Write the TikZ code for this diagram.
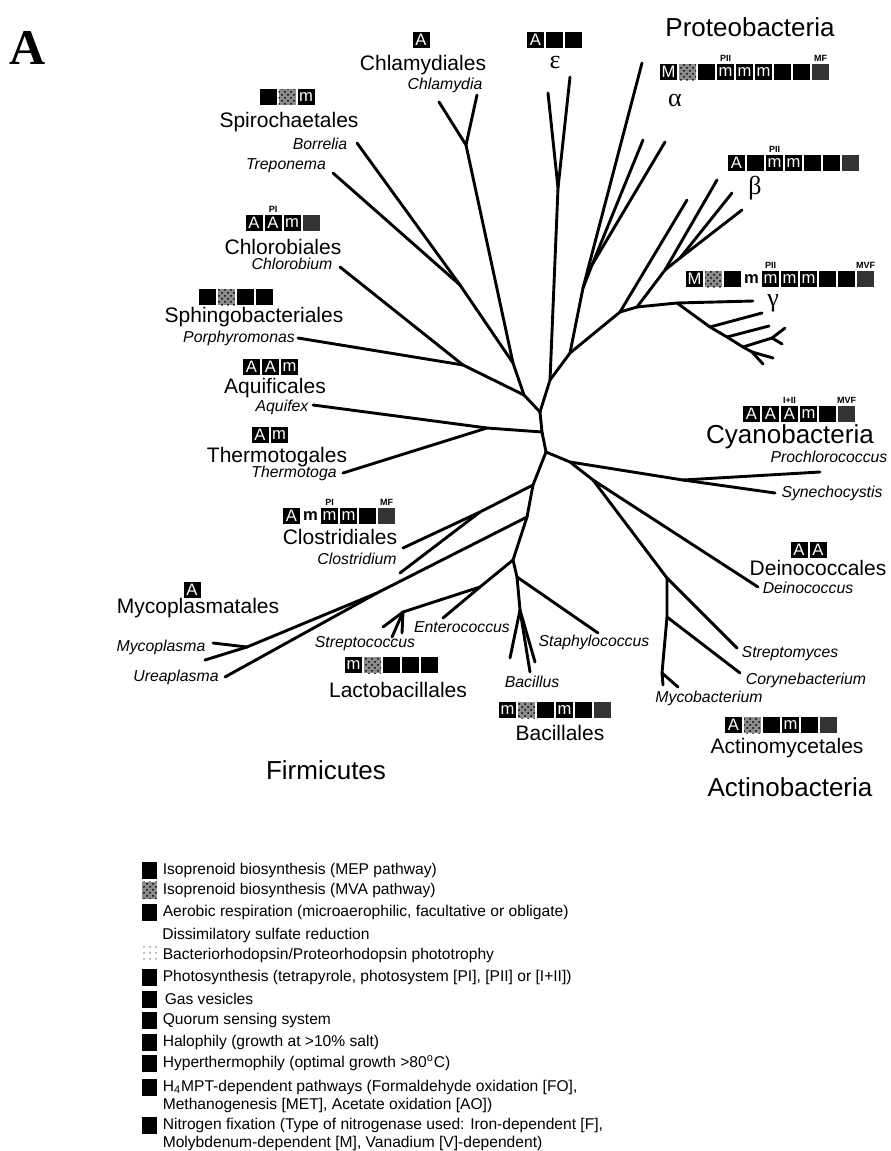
\documentclass[tikz,border=0pt]{standalone}
\usepackage{fontspec}
\setmainfont{Liberation Sans}
\newfontfamily\grk{Liberation Serif}
\usetikzlibrary{positioning,patterns}

\begin{document}
\begin{tikzpicture}[x=0.5pt, y=-0.5pt, node distance=9.5pt,
  branch/.style={line width=1.45pt, line cap=round, line join=round},
  feat/.style={fill=black, text=white, minimum width=8.5pt, minimum height=8pt, inner sep=0pt, font=\fontsize{8.3}{8.5}\selectfont},
  mva/.style={feat, preaction={fill=black!45}, pattern=crosshatch dots},
  dim/.style={feat, fill=black!80},
  bare/.style={feat, fill=none, text=black, font=\fontsize{8.3}{8.5}\selectfont\bfseries},
  tag/.style={font=\fontsize{4.5}{5}\selectfont\bfseries, inner sep=0pt},
  order/.style={font=\fontsize{10.5}{12}\selectfont, inner sep=0pt},
  genus/.style={font=\fontsize{7.9}{9}\selectfont\itshape, inner sep=0pt},
  phylum/.style={font=\fontsize{13}{15}\selectfont, inner sep=0pt},
  greek/.style={font=\fontsize{13}{15}\selectfont\grk, inner sep=0pt},
  legbox/.style={fill=black, minimum width=7.5pt, minimum height=8.5pt, inner sep=0pt},
  legrho/.style={legbox, fill=none, pattern=dots, pattern color=black!40},
  legmva/.style={legbox, preaction={fill=black!45}, pattern=crosshatch dots},
  legtext/.style={font=\fontsize{7.8}{9}\selectfont, inner sep=0pt}]
\useasboundingbox (0,0) rectangle (890,1151);

\node[font=\fontsize{25}{28}\selectfont\grk\bfseries, inner sep=0pt] (panel) at (28,48) {A};

% tree points
\coordinate (ro) at (546,452);
\coordinate (bb1) at (542,432);
\coordinate (bb2) at (540,412);
\coordinate (lt) at (524,395);
\coordinate (sc) at (513,363);
\coordinate (sp) at (460,285);
\coordinate (ch) at (466,145);
\coordinate (cp) at (463,365);
\coordinate (pr) at (550,380);
\coordinate (ep) at (558,188);
\coordinate (pab) at (570,353);
\coordinate (al) at (583,288);
\coordinate (al2) at (592,265);
\coordinate (bg) at (620,312);
\coordinate (bg2) at (637,307);
\coordinate (be2) at (665,270);
\coordinate (be3) at (680,258);
\coordinate (ga) at (677,303);
\coordinate (gs1) at (710,327);
\coordinate (gs2) at (727,337);
\coordinate (gs3) at (743,347);
\coordinate (gs4) at (752,352);
\coordinate (gf) at (772,338);
\coordinate (aq) at (487,428);
\coordinate (cy) at (570,462);
\coordinate (cy2) at (683,480);
\coordinate (dn) at (593,480);
\coordinate (ac) at (667,578);
\coordinate (ac2) at (667,617);
\coordinate (my) at (662,673);
\coordinate (cl) at (533,485);
\coordinate (cl2) at (480,512);
\coordinate (mp) at (527,517);
\coordinate (mp2) at (377,593);
\coordinate (mp3) at (247,647);
\coordinate (fl) at (513,560);
\coordinate (lb) at (480,587);
\coordinate (st) at (403,612);
\coordinate (ba) at (517,577);
\coordinate (ba2) at (520,610);

% leaves
\coordinate (bor) at (357,143);
\coordinate (tre) at (333,173);
\coordinate (chl1) at (439,102);
\coordinate (chl2) at (477,95);
\coordinate (chb) at (340,267);
\coordinate (por) at (298,338);
\coordinate (eps1) at (548,93);
\coordinate (eps2) at (570,77);
\coordinate (alf1) at (642,63);
\coordinate (alf2) at (643,140);
\coordinate (alf3) at (665,142);
\coordinate (bet1) at (687,200);
\coordinate (bet2) at (717,180);
\coordinate (bet3) at (732,193);
\coordinate (bet4) at (742,210);
\coordinate (gtop) at (753,301);
\coordinate (gl1) at (762,313);
\coordinate (gl2) at (769,326);
\coordinate (gl3) at (785,328);
\coordinate (gl4) at (782,344);
\coordinate (gl5) at (773,358);
\coordinate (gend) at (763,364);
\coordinate (aqx) at (313,405);
\coordinate (thg) at (343,473);
\coordinate (pro) at (820,472);
\coordinate (syn) at (775,493);
\coordinate (dei) at (758,587);
\coordinate (stm) at (737,648);
\coordinate (cor) at (740,673);
\coordinate (myc1) at (663,685);
\coordinate (myc2) at (678,687);
\coordinate (cls) at (403,548);
\coordinate (clo) at (400,573);
\coordinate (myp1) at (213,643);
\coordinate (myp2) at (205,660);
\coordinate (ure) at (225,677);
\coordinate (str1) at (383,627);
\coordinate (str2) at (392,637);
\coordinate (str3) at (402,633);
\coordinate (ent) at (443,618);
\coordinate (sta) at (598,633);
\coordinate (bac1) at (510,658);
\coordinate (bac2) at (530,672);
\coordinate (bac3) at (535,662);

% branches
\draw[branch] (ro) -- (bb1) -- (bb2) -- (lt) -- (sc) -- (sp) -- (bor);
\draw[branch] (sp) -- (tre);
\draw[branch] (sc) -- (ch) -- (chl1);
\draw[branch] (ch) -- (chl2);
\draw[branch] (lt) -- (cp) -- (chb);
\draw[branch] (cp) -- (por);
\draw[branch] (bb2) -- (pr) -- (ep) -- (eps1);
\draw[branch] (ep) -- (eps2);
\draw[branch] (pr) -- (pab) -- (al) -- (alf1);
\draw[branch] (al) -- (al2) -- (alf2);
\draw[branch] (al2) -- (alf3);
\draw[branch] (pab) -- (bg) -- (bet1);
\draw[branch] (bg) -- (bg2) -- (be2) -- (bet2);
\draw[branch] (be2) -- (be3) -- (bet3);
\draw[branch] (be3) -- (bet4);
\draw[branch] (bg2) -- (ga) -- (gtop);
\draw[branch] (ga) -- (gs1) -- (gs2) -- (gs3) -- (gs4) -- (gend);
\draw[branch] (gs1) -- (gl1);
\draw[branch] (gs2) -- (gl2);
\draw[branch] (gs3) -- (gf) -- (gl3);
\draw[branch] (gf) -- (gl4);
\draw[branch] (gs4) -- (gl5);
\draw[branch] (bb1) -- (aq) -- (aqx);
\draw[branch] (aq) -- (thg);
\draw[branch] (ro) -- (cy) -- (cy2) -- (pro);
\draw[branch] (cy2) -- (syn);
\draw[branch] (cy) -- (dn) -- (dei);
\draw[branch] (dn) -- (ac) -- (stm);
\draw[branch] (ac) -- (ac2) -- (cor);
\draw[branch] (ac2) -- (my) -- (myc1);
\draw[branch] (my) -- (myc2);
\draw[branch] (ro) -- (cl) -- (mp) -- (fl);
\draw[branch] (cl) -- (cl2) -- (cls);
\draw[branch] (cl2) -- (clo);
\draw[branch] (mp) -- (mp2) -- (mp3) -- (myp1);
\draw[branch] (mp3) -- (myp2);
\draw[branch] (mp2) -- (ure);
\draw[branch] (fl) -- (lb) -- (st) -- (str1);
\draw[branch] (st) -- (str2);
\draw[branch] (st) -- (str3);
\draw[branch] (lb) -- (ent);
\draw[branch] (fl) -- (ba) -- (sta);
\draw[branch] (ba) -- (ba2) -- (bac1);
\draw[branch] (ba2) -- (bac2);
\draw[branch] (ba2) -- (bac3);

% phyla
\node[phylum] (proteo) at (750,27) {Proteobacteria};
\node[phylum] (cyano) at (790,437) {Cyanobacteria};
\node[phylum] (firmi) at (326,770) {Firmicutes};
\node[phylum] (actino) at (790,787) {Actinobacteria};

% Greek subdivisions
\node[greek] (gkeps) at (555,63) {ε};
\node[greek] (gkalf) at (675,100) {α};
\node[greek] (gkbet) at (755,188) {β};
\node[greek] (gkgam) at (773,303) {γ};

% orders
\node[order] (ochd) at (423,65) {Chlamydiales};
\node[order] (ospi) at (289,122) {Spirochaetales};
\node[order] (ochb) at (283,247) {Chlorobiales};
\node[order] (osph) at (254,317) {Sphingobacteriales};
\node[order] (oaqu) at (275,388) {Aquificales};
\node[order] (othe) at (277,457) {Thermotogales};
\node[order] (ocls) at (340,537) {Clostridiales};
\node[order] (omyc) at (198,608) {Mycoplasmatales};
\node[order] (olac) at (398,690) {Lactobacillales};
\node[order] (obac) at (560,733) {Bacillales};
\node[order] (oact) at (787,748) {Actinomycetales};
\node[order] (odei) at (818,568) {Deinococcales};

% genera
\node[genus] (nchl) at (445,85) {Chlamydia};
\node[genus] (nbor) at (320,144) {Borrelia};
\node[genus] (ntre) at (286,166) {Treponema};
\node[genus] (nchb) at (292,264) {Chlorobium};
\node[genus] (npor) at (239,338) {Porphyromonas};
\node[genus] (naqu) at (282,407) {Aquifex};
\node[genus] (nthe) at (294,473) {Thermotoga};
\node[genus] (nclo) at (357,559) {Clostridium};
\node[genus] (nmyp) at (161,647) {Mycoplasma};
\node[genus] (nure) at (176,677) {Ureaplasma};
\node[genus] (nstr) at (365,644) {Streptococcus};
\node[genus] (nent) at (462,627) {Enterococcus};
\node[genus] (nbac) at (532,682) {Bacillus};
\node[genus] (nsta) at (594,642) {Staphylococcus};
\node[genus] (nmyb) at (709,698) {Mycobacterium};
\node[genus] (ncor) at (806,680) {Corynebacterium};
\node[genus] (nstm) at (790,654) {Streptomyces};
\node[genus] (ndei) at (808,588) {Deinococcus};
\node[genus] (nsyn) at (832,493) {Synechocystis};
\node[genus] (npro) at (829,457) {Prochlorococcus};

% feature boxes
\node[feat] (fchd1) at (421,40) {A};

\node[feat] (feps1) at (535.5,40) {A};
\node[feat] (feps2) [right of=feps1] {};
\node[feat] (feps3) [right of=feps2] {};

\node[feat] (falf1) at (668.5,72) {M};
\node[mva] (falf2) [right of=falf1] {};
\node[feat] (falf3) [right of=falf2] {};
\node[feat] (falf4) [right of=falf3] {m};
\node[feat] (falf5) [right of=falf4] {m};
\node[feat] (falf6) [right of=falf5] {m};
\node[feat] (falf7) [right of=falf6] {};
\node[feat] (falf8) [right of=falf7] {};
\node[dim] (falf9) [right of=falf8] {};
\node[tag] (talf4) [above=1pt of falf4] {PII};
\node[tag] (talf9) [above=1pt of falf9] {MF};

\node[feat] (fbet1) at (736.5,163) {A};
\node[feat] (fbet2) [right of=fbet1] {};
\node[feat] (fbet3) [right of=fbet2] {m};
\node[feat] (fbet4) [right of=fbet3] {m};
\node[feat] (fbet5) [right of=fbet4] {};
\node[feat] (fbet6) [right of=fbet5] {};
\node[dim] (fbet7) [right of=fbet6] {};
\node[tag] (tbet3) [above=1pt of fbet3] {PII};

\node[feat] (fgam1) at (694.5,279) {M};
\node[mva] (fgam2) [right of=fgam1] {};
\node[feat] (fgam3) [right of=fgam2] {};
\node[bare] (fgam4) [right of=fgam3] {m};
\node[feat] (fgam5) [right of=fgam4] {m};
\node[feat] (fgam6) [right of=fgam5] {m};
\node[feat] (fgam7) [right of=fgam6] {m};
\node[feat] (fgam8) [right of=fgam7] {};
\node[feat] (fgam9) [right of=fgam8] {};
\node[dim] (fgam10) [right of=fgam9] {};
\node[tag] (tgam5) [above=1pt of fgam5] {PII};
\node[tag] (tgam10) [above=1pt of fgam10] {MVF};

\node[feat] (fcya1) at (751.5,414) {A};
\node[feat] (fcya2) [right of=fcya1] {A};
\node[feat] (fcya3) [right of=fcya2] {A};
\node[feat] (fcya4) [right of=fcya3] {m};
\node[feat] (fcya5) [right of=fcya4] {};
\node[dim] (fcya6) [right of=fcya5] {};
\node[tag] (tcya3) [above=1pt of fcya3] {I+II};
\node[tag] (tcya6) [above=1pt of fcya6] {MVF};

\node[feat] (fdei1) at (799,550) {A};
\node[feat] (fdei2) [right of=fdei1] {A};

\node[feat] (fact1) at (733.5,725) {A};
\node[mva] (fact2) [right of=fact1] {};
\node[feat] (fact3) [right of=fact2] {};
\node[feat] (fact4) [right of=fact3] {m};
\node[feat] (fact5) [right of=fact4] {};
\node[dim] (fact6) [right of=fact5] {};

\node[feat] (fbac1) at (507.5,710) {m};
\node[mva] (fbac2) [right of=fbac1] {};
\node[feat] (fbac3) [right of=fbac2] {};
\node[feat] (fbac4) [right of=fbac3] {m};
\node[feat] (fbac5) [right of=fbac4] {};
\node[dim] (fbac6) [right of=fbac5] {};

\node[feat] (flac1) at (353.5,665) {m};
\node[mva] (flac2) [right of=flac1] {};
\node[feat] (flac3) [right of=flac2] {};
\node[feat] (flac4) [right of=flac3] {};
\node[feat] (flac5) [right of=flac4] {};

\node[feat] (fmyc1) at (192,590) {A};

\node[feat] (fcls1) at (291.5,516) {A};
\node[bare] (fcls2) [right of=fcls1] {m};
\node[feat] (fcls3) [right of=fcls2] {m};
\node[feat] (fcls4) [right of=fcls3] {m};
\node[feat] (fcls5) [right of=fcls4] {};
\node[dim] (fcls6) [right of=fcls5] {};
\node[tag] (tcls3) [above=1pt of fcls3] {PI};
\node[tag] (tcls6) [above=1pt of fcls6] {MF};

\node[feat] (fthe1) at (260,435) {A};
\node[feat] (fthe2) [right of=fthe1] {m};

\node[feat] (faqu1) at (251.5,367) {A};
\node[feat] (faqu2) [right of=faqu1] {A};
\node[feat] (faqu3) [right of=faqu2] {m};

\node[feat] (fsph1) at (207.5,297) {};
\node[mva] (fsph2) [right of=fsph1] {};
\node[feat] (fsph3) [right of=fsph2] {};
\node[feat] (fsph4) [right of=fsph3] {};

\node[feat] (fchb1) at (254,223) {A};
\node[feat] (fchb2) [right of=fchb1] {A};
\node[feat] (fchb3) [right of=fchb2] {m};
\node[dim] (fchb4) [right of=fchb3] {};
\node[tag] (tchb2) [above=1pt of fchb2] {PI};

\node[feat] (fspi1) at (268,97) {};
\node[mva] (fspi2) [right of=fspi1] {};
\node[feat] (fspi3) [right of=fspi2] {m};

% legend
\node[legbox] (lg1) at (149.5,870) {};
\node[legtext] (lt1) [right=2.5pt of lg1] {Isoprenoid biosynthesis (MEP pathway)};
\node[legmva] (lg2) at (149.5,890) {};
\node[legtext] (lt2) [right=2.5pt of lg2] {Isoprenoid biosynthesis (MVA pathway)};
\node[legbox] (lg3) at (149.5,912) {};
\node[legtext] (lt3) [right=2.5pt of lg3] {Aerobic respiration (microaerophilic, facultative or obligate)};
\coordinate (lg4) at (149.5,935);
\node[legtext, anchor=west] (lt4) at ([xshift=6.25pt]lg4) {Dissimilatory sulfate reduction};
\node[legrho] (lg5) at (149.5,955) {};
\node[legtext] (lt5) [right=2.5pt of lg5] {Bacteriorhodopsin/Proteorhodopsin phototrophy};
\node[legbox] (lg6) at (149.5,977) {};
\node[legtext] (lt6) [right=2.5pt of lg6] {Photosynthesis (tetrapyrole, photosystem [PI], [PII] or [I+II])};
\node[legbox] (lg7) at (149.5,999) {};
\node[legtext] (lt7) [right=3.5pt of lg7] {Gas vesicles};
\node[legbox] (lg8) at (149.5,1020) {};
\node[legtext] (lt8) [right=2.5pt of lg8] {Quorum sensing system};
\node[legbox] (lg9) at (149.5,1042) {};
\node[legtext] (lt9) [right=2.5pt of lg9] {Halophily (growth at >10\% salt)};
\node[legbox] (lg10) at (149.5,1063) {};
\node[legtext] (lt10) [right=2.5pt of lg10] {Hyperthermophily (optimal growth >80\textsuperscript{o}C)};
\node[legbox] (lg11) at (149.5,1087) {};
\node[legtext] (lt11) [right=2.5pt of lg11] {H\textsubscript{4}MPT-dependent pathways (Formaldehyde oxidation [FO],};
\node[legtext, anchor=west] (lt11b) at ([yshift=-9pt]lt11.west) {Methanogenesis [MET], Acetate oxidation [AO])};
\node[legbox] (lg12) at (149.5,1125) {};
\node[legtext] (lt12) [right=2.5pt of lg12] {Nitrogen fixation (Type of nitrogenase used: Iron-dependent [F],};
\node[legtext, anchor=west] (lt12b) at ([yshift=-9pt]lt12.west) {Molybdenum-dependent [M], Vanadium [V]-dependent)};
\end{tikzpicture}
\end{document}
